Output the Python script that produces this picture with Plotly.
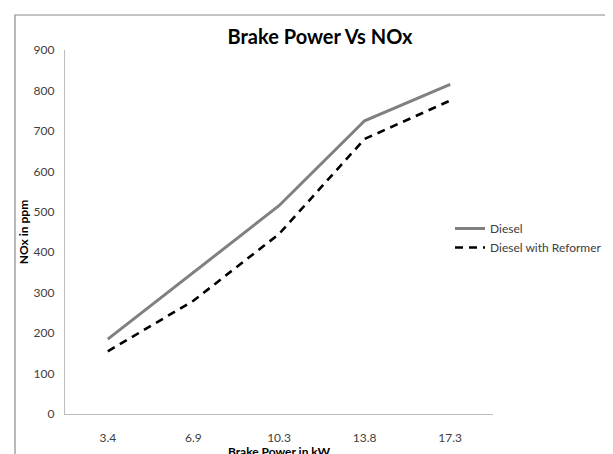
import plotly.graph_objects as go

categories = ["3.4", "6.9", "10.3", "13.8", "17.3"]
diesel = [185, 350, 515, 725, 815]
diesel_reformer = [155, 280, 445, 680, 775]

W, H = 613, 454
OFF = 8  # default page body margin in the written html
L, R, T, B = 65 - OFF, 128, 50 - OFF, 48
pw = W - L - R
ph = H - T - B

FONT = "Lato, 'Open Sans', sans-serif"

fig = go.Figure()
fig.add_trace(go.Scatter(
    x=categories, y=diesel, mode="lines", name="Diesel",
    line=dict(color="#808080", width=3),
))
fig.add_trace(go.Scatter(
    x=categories, y=diesel_reformer, mode="lines", name="Diesel with Reformer",
    line=dict(color="#000000", width=2.6, dash="8px,6px"),
))

# chart border (outer frame, partly cut by the window)
fig.add_shape(type="rect", xref="paper", yref="paper",
              x0=(15 - OFF - L) / pw, x1=(W + 10 - L) / pw,
              y0=-(B + 10) / ph, y1=(H - (15 - OFF) - B) / ph,
              line=dict(color="#8a8a8a", width=1.2), fillcolor="rgba(0,0,0,0)",
              layer="below")

fig.update_layout(
    width=W, height=H,
    margin=dict(l=L, r=R, t=T, b=B),
    paper_bgcolor="white", plot_bgcolor="white",
    font=dict(family=FONT, size=12, color="#404040"),
    title=dict(text="<b>Brake Power Vs NOx</b>", x=(320 - OFF) / W, xanchor="center",
               y=1 - (37 - OFF) / H, yanchor="middle",
               font=dict(family=FONT, size=20, color="#000000")),
    showlegend=True,
    legend=dict(x=(450 - OFF - L) / pw, y=(H - B - (214 - OFF)) / ph, xanchor="left", yanchor="top",
                font=dict(family=FONT, size=12, color="#404040"),
                bgcolor="rgba(0,0,0,0)", tracegroupgap=0),
    xaxis=dict(
        type="category", range=[-0.5, 4.5], automargin=False,
        showgrid=False, zeroline=False,
        showline=True, linecolor="#bdbdbd", linewidth=1.2,
        ticks="", tickfont=dict(family=FONT, size=12, color="#404040"),
        ticklabelstandoff=12,
        title=dict(text="<b>Brake Power in kW</b>", standoff=1,
                   font=dict(family=FONT, size=12, color="#000000")),
    ),
    yaxis=dict(
        range=[0, 900], dtick=100, automargin=False,
        showgrid=False, zeroline=False,
        showline=True, linecolor="#bdbdbd", linewidth=1.2,
        ticks="", tickfont=dict(family=FONT, size=12, color="#404040"),
        ticklabelstandoff=7,
        title=dict(text="<b>NOx in ppm</b>", standoff=2,
                   font=dict(family=FONT, size=12, color="#000000")),
    ),
)

fig.write_html("out.html")
